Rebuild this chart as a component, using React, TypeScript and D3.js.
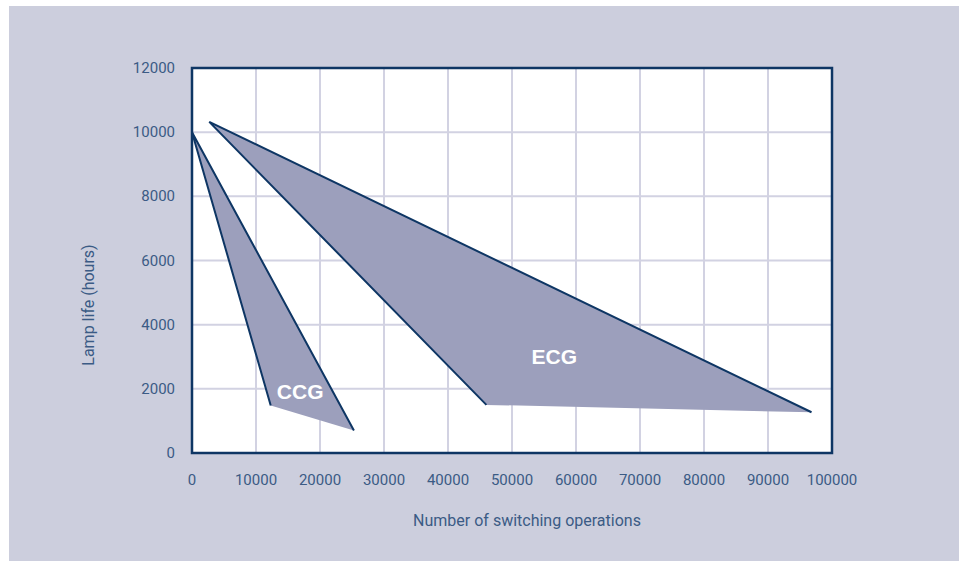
import React from "react";
import * as d3 from "d3";

const xTicks = [0, 10000, 20000, 30000, 40000, 50000, 60000, 70000, 80000, 90000, 100000];
const yTicks = [0, 2000, 4000, 6000, 8000, 10000, 12000];

// CCG triangle: apex, lower-left, lower-right
const ccgX = [0, 12300, 25300];
const ccgY = [10000, 1480, 700];
// ECG triangle: apex, lower-left, lower-right
const ecgX = [2700, 46000, 96800];
const ecgY = [10320, 1500, 1270];

const labels = ["CCG", "ECG"];
const labelX = [16900, 56600];
const labelY = [1930, 3000];

const W = 959, H = 561;
const left = 192, right = 832, top = 68, bottom = 453;

export default function App() {
  const x = d3.scaleLinear().domain([0, 100000]).range([left, right]);
  const y = d3.scaleLinear().domain([0, 12000]).range([bottom, top]);
  const tickColor = "#3b5b85";
  const navy = "#0e3664";
  const fill = "#9c9fbc";
  const font = "Roboto, 'Open Sans', sans-serif";

  const tri = (xs: number[], ys: number[]) => xs.map((v, i) => [x(v), y(ys[i])] as [number, number]);
  const ccg = tri(ccgX, ccgY);
  const ecg = tri(ecgX, ecgY);
  const line = d3.line();

  return (
    <svg width={W} height={H} style={{ position: "absolute", left: 0, top: 0 }}>
      <rect x={0} y={0} width={W} height={H} fill="#ffffff" />
      <rect x={9} y={6} width={W - 9} height={H - 6} fill="#cccedd" />
      <rect x={left} y={top} width={right - left} height={bottom - top} fill="#ffffff" />
      {xTicks.slice(1, -1).map((t) => (
        <line key={"gx" + t} x1={x(t)} x2={x(t)} y1={top} y2={bottom} stroke="#d2d2e2" strokeWidth={2} />
      ))}
      {yTicks.slice(1, -1).map((t) => (
        <line key={"gy" + t} x1={left} x2={right} y1={y(t)} y2={y(t)} stroke="#d2d2e2" strokeWidth={2} />
      ))}
      {/* polygons */}
      <path d={line([...ccg, ccg[0]]) || ""} fill={fill} stroke="none" />
      <path d={line([ccg[1], ccg[0], ccg[2]]) || ""} fill="none" stroke={navy} strokeWidth={2} strokeLinejoin="miter" />
      <path d={line([...ecg, ecg[0]]) || ""} fill={fill} stroke="none" />
      <path d={line([ecg[1], ecg[0], ecg[2]]) || ""} fill="none" stroke={navy} strokeWidth={2} strokeLinejoin="miter" />
      {labels.map((l, i) => (
        <text key={l} x={x(labelX[i])} y={y(labelY[i])} fill="#ffffff" fontFamily="Arial, 'Liberation Sans', sans-serif" fontWeight="bold" fontSize={21} textAnchor="middle" dominantBaseline="central">
          {l}
        </text>
      ))}
      <rect x={left} y={top} width={right - left} height={bottom - top} fill="none" stroke={navy} strokeWidth={2.5} />
      {xTicks.map((t) => (
        <text key={"xt" + t} x={x(t)} y={bottom + 27} fill={tickColor} fontFamily={font} fontSize={15} fontWeight={400} textAnchor="middle" dominantBaseline="central">
          {t}
        </text>
      ))}
      {yTicks.map((t) => (
        <text key={"yt" + t} x={left - 17} y={y(t)} fill={tickColor} fontFamily={font} fontSize={15} fontWeight={400} textAnchor="end" dominantBaseline="central">
          {t}
        </text>
      ))}
      <text x={527} y={520} fill={tickColor} fontFamily={font} fontSize={16} fontWeight={400} textAnchor="middle" dominantBaseline="central">
        Number of switching operations
      </text>
      <text transform={`translate(88,305) rotate(-90)`} fill={tickColor} fontFamily={font} fontSize={16} fontWeight={400} textAnchor="middle" dominantBaseline="central">
        Lamp life (hours)
      </text>
    </svg>
  );
}
